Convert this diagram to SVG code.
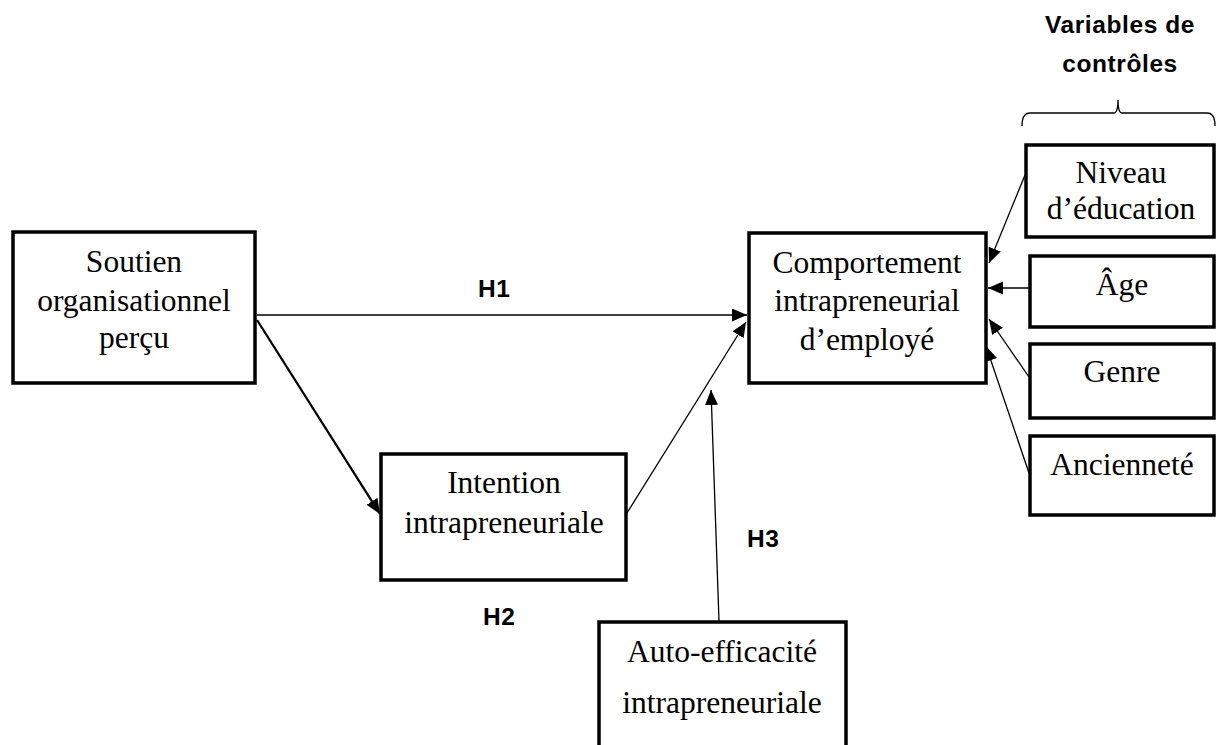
<svg xmlns="http://www.w3.org/2000/svg" width="1217" height="745" viewBox="0 0 1217 745">
<style>
.box{fill:#fff;stroke:#000;stroke-width:3.5}
.t{font-family:"Liberation Serif","Times New Roman",serif;font-size:31.5px;fill:#000;text-anchor:middle}
.lab{font-family:"Liberation Sans",Arial,sans-serif;font-weight:bold;font-size:24.5px;fill:#000;letter-spacing:0.6px}
.c{stroke:#000;stroke-width:1.3;fill:none;marker-end:url(#ah)}
</style>
<defs>
<marker id="ah" markerUnits="userSpaceOnUse" markerWidth="16" markerHeight="14" refX="15" refY="6.5" orient="auto">
<path d="M0,0 L15,6.5 L0,13 z" fill="#000"/>
</marker>
</defs>
<rect width="1217" height="745" fill="#fff"/>
<g id="connectors">
<line class="c" x1="257" y1="315" x2="747" y2="315"/>
<line class="c" x1="257" y1="320" x2="380" y2="514" style="stroke-width:2.3"/>
<line class="c" x1="627" y1="513" x2="746" y2="322"/>
<line class="c" x1="719" y1="621" x2="711" y2="390"/>
<line class="c" x1="1025" y1="175" x2="989" y2="263"/>
<line class="c" x1="1029" y1="288" x2="988" y2="288"/>
<line class="c" x1="1029" y1="377" x2="989" y2="319"/>
<line class="c" x1="1029" y1="473" x2="986" y2="346"/>
</g>
<g id="soutien">
<rect class="box" x="13" y="232" width="242" height="151"/>
<text class="t" x="134" y="272">Soutien</text>
<text class="t" x="134" y="311">organisationnel</text>
<text class="t" x="134" y="348">perçu</text>
</g>
<g id="comportement">
<rect class="box" x="749" y="233" width="237" height="150"/>
<text class="t" x="867" y="273">Comportement</text>
<text class="t" x="867" y="311">intrapreneurial</text>
<text class="t" x="867" y="350">d’employé</text>
</g>
<g id="intention">
<rect class="box" x="381" y="454" width="245" height="126"/>
<text class="t" x="504" y="493">Intention</text>
<text class="t" x="504" y="533">intrapreneuriale</text>
</g>
<g id="autoefficacite">
<rect class="box" x="599" y="622" width="247" height="140"/>
<text class="t" x="722" y="662">Auto-efficacité</text>
<text class="t" x="722" y="713">intrapreneuriale</text>
</g>
<g id="niveau">
<rect class="box" x="1026" y="145" width="188" height="92"/>
<text class="t" x="1121" y="183">Niveau</text>
<text class="t" x="1121" y="219">d’éducation</text>
</g>
<g id="age">
<rect class="box" x="1030" y="256" width="184" height="71"/>
<text class="t" x="1122" y="295">Âge</text>
</g>
<g id="genre">
<rect class="box" x="1030" y="344" width="184" height="74"/>
<text class="t" x="1122" y="382">Genre</text>
</g>
<g id="anciennete">
<rect class="box" x="1030" y="436" width="184" height="79"/>
<text class="t" x="1122" y="475">Ancienneté</text>
</g>
<g id="controles">
<text class="lab" x="1120" y="33" text-anchor="middle">Variables de</text>
<text class="lab" x="1120" y="72" text-anchor="middle">contrôles</text>
<path d="M1022,126 Q1022,113 1030,113 L1114,113 Q1118,113 1118,100 Q1118,113 1122,113 L1207,113 Q1215,113 1215,126" fill="none" stroke="#000" stroke-width="1.3"/>
</g>
<g id="labels">
<text class="lab" x="478" y="297">H1</text>
<text class="lab" x="483" y="625">H2</text>
<text class="lab" x="747" y="547">H3</text>
</g>
</svg>
